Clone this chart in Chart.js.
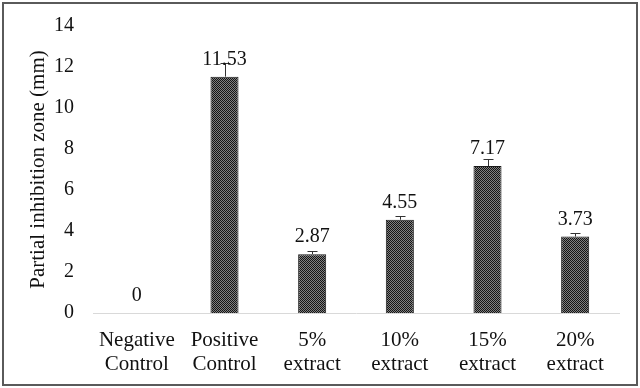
<!DOCTYPE html>
<html>
<head>
<meta charset="utf-8">
<script src="https://cdn.jsdelivr.net/npm/chart.js@4"></script>
<style>
  html, body { margin: 0; padding: 0; background: #fff; }
  #wrap { width: 640px; height: 388px; }
</style>
</head>
<body>
<div id="wrap"><canvas id="chart" width="640" height="388"></canvas></div>
<script>
// Chart data
const categories = [['Negative', 'Control'], ['Positive', 'Control'], ['5%', 'extract'], ['10%', 'extract'], ['15%', 'extract'], ['20%', 'extract']];
const zoneValues = [0, 11.53, 2.87, 4.55, 7.17, 3.73];
const zoneErrors = [0, 0.65, 0.15, 0.2, 0.35, 0.18];
const valueLabels = ['0', '11.53', '2.87', '4.55', '7.17', '3.73'];

const FONT = "'Liberation Serif', 'Times New Roman', serif";

// Checkered fill like the original bars
function makePattern() {
    const p = document.createElement('canvas');
    p.width = 2;
    p.height = 2;
    const c = p.getContext('2d');
    c.fillStyle = '#808080';
    c.fillRect(0, 0, 2, 2);
    c.fillStyle = '#141414';
    c.fillRect(0, 0, 1, 1);
    c.fillRect(1, 1, 1, 1);
    return c.createPattern(p, 'repeat');
}

// Outer frame
const framePlugin = {
    id: 'frame',
    afterDraw(chart) {
        const ctx = chart.ctx;
        ctx.save();
        ctx.strokeStyle = '#5a5a5a';
        ctx.lineWidth = 2;
        ctx.strokeRect(3, 3, chart.width - 6, chart.height - 6);
        ctx.restore();
    }
};

// Upper error bars
const errorBarPlugin = {
    id: 'errorBars',
    afterDatasetsDraw(chart) {
        const ctx = chart.ctx;
        const yScale = chart.scales.y;
        const meta = chart.getDatasetMeta(0);
        ctx.save();
        ctx.strokeStyle = '#333';
        ctx.lineWidth = 1;
        meta.data.forEach((bar, i) => {
            const err = zoneErrors[i];
            if (!err) return;
            const x = Math.round(bar.x) + 0.5;
            const yTop = Math.round(yScale.getPixelForValue(zoneValues[i] + err)) + 0.5;
            const yBase = yScale.getPixelForValue(zoneValues[i]);
            ctx.beginPath();
            ctx.moveTo(x, yBase);
            ctx.lineTo(x, yTop);
            ctx.moveTo(x - 5, yTop);
            ctx.lineTo(x + 5, yTop);
            ctx.stroke();
        });
        ctx.restore();
    }
};

// Value labels above bars
const valueLabelPlugin = {
    id: 'valueLabels',
    afterDatasetsDraw(chart) {
        const ctx = chart.ctx;
        const meta = chart.getDatasetMeta(0);
        ctx.save();
        ctx.fillStyle = '#111';
        ctx.font = '20px ' + FONT;
        ctx.textAlign = 'center';
        ctx.textBaseline = 'alphabetic';
        meta.data.forEach((bar, i) => {
            ctx.fillText(valueLabels[i], bar.x, bar.y - 12);
        });
        ctx.restore();
    }
};

new Chart(document.getElementById('chart'), {
    type: 'bar',
    data: {
        labels: categories,
        datasets: [{
            data: zoneValues,
            backgroundColor: makePattern(),
            borderColor: '#1a1a1a',
            borderWidth: 1,
            barPercentage: 0.32,
            categoryPercentage: 1
        }]
    },
    options: {
        responsive: false,
        animation: false,
        layout: { padding: { top: 26, right: 21, bottom: 8, left: 10 } },
        plugins: {
            legend: { display: false },
            tooltip: { enabled: false }
        },
        scales: {
            x: {
                grid: { display: false, drawTicks: false },
                border: { display: true, color: '#d9d9d9', width: 1 },
                ticks: {
                    color: '#111',
                    font: { family: FONT, size: 21, lineHeight: 1.12 },
                    padding: 16,
                    maxRotation: 0,
                    autoSkip: false
                },
                afterFit(scale) { scale.height = 67; }
            },
            y: {
                min: 0,
                max: 14,
                grid: { display: false, drawTicks: false },
                border: { display: false },
                ticks: {
                    stepSize: 2,
                    color: '#111',
                    font: { family: FONT, size: 20 },
                    padding: 19
                },
                title: {
                    display: true,
                    text: 'Partial inhibition zone (mm)',
                    color: '#111',
                    font: { family: FONT, size: 21 },
                    padding: { top: 16, bottom: 0 }
                },
                afterFit(scale) {
                    scale.width = 83;
                    scale.paddingTop = 0;
                    scale.paddingBottom = 0;
                }
            }
        }
    },
    plugins: [framePlugin, errorBarPlugin, valueLabelPlugin]
});
</script>
</body>
</html>
